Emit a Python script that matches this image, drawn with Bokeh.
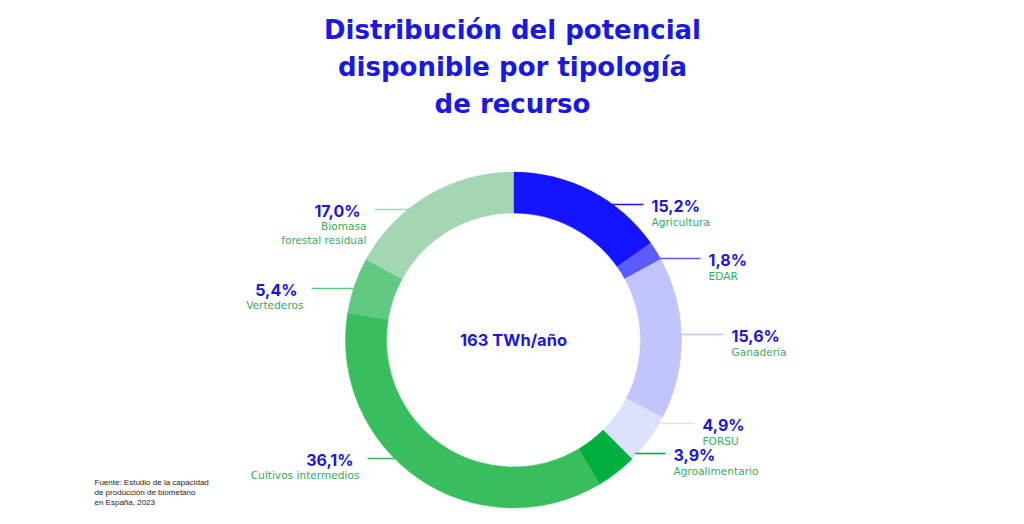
import math
from bokeh.plotting import figure
from bokeh.models import Range1d, ColumnDataSource
from bokeh.core.properties import value
from bokeh.embed import file_html
from bokeh.resources import INLINE

# ---------------- data ----------------
title_lines = ["Distribución del potencial", "disponible por tipología", "de recurso"]
categories = ["Agricultura", "EDAR", "Ganadería", "FORSU", "Agroalimentario",
              "Cultivos intermedios", "Vertederos", "Biomasa\nforestal residual"]
shares = [15.2, 1.8, 15.6, 4.9, 3.9, 36.1, 5.4, 17.0]
center_text = "163 TWh/año"
source_lines = ["Fuente: Estudio de la capacidad", "de producción de biometano", "en España, 2023"]

# ---------------- styles / layout ----------------
colors = ["#1414FF", "#5A5CFF", "#C1C5FB", "#DEE1FD", "#00B03E", "#38BE5C", "#62C982", "#A3D7B2"]
W, H = 1024, 524
CX, CY_PIX = 513, 339.5
R_OUT, R_IN = 168, 127
TITLE_COLOR = "#1A18E4"
PCT_COLOR = "#1C16D8"
SUB_COLOR = "#35AE58"
FONT = "Inter"
TITLE_FONT = "DejaVu Sans"
SUB_FONT = "DejaVu Sans"

# label layout (pixel coords, y down): side, anchor x, leader-line y
label_side = ["R", "R", "R", "R", "R", "L", "L", "L"]
label_x = [651, 708, 731, 702, 673, 359, 303, 366]
label_line_y = [204, 258, 334, 423, 453, 458, 288, 209]


def Y(ypix):
    return H - ypix


CY = Y(CY_PIX)

p = figure(width=W, height=H, output_backend="svg", toolbar_location=None,
           x_range=Range1d(0, W), y_range=Range1d(0, H), min_border=0)
p.axis.visible = False
p.grid.visible = False
p.outline_line_color = None
p.background_fill_color = "white"
p.border_fill_color = "white"

# ---------------- donut ----------------
total = sum(shares)
starts, ends = [], []
cum = 0.0
for v in shares:
    a0 = math.pi / 2 - cum / total * 2 * math.pi
    cum += v
    a1 = math.pi / 2 - cum / total * 2 * math.pi
    starts.append(a0)
    ends.append(a1)

src = ColumnDataSource(dict(x=[CX] * len(shares), y=[CY] * len(shares),
                            start=starts, end=ends, color=colors))
p.annular_wedge(x="x", y="y", inner_radius=R_IN, outer_radius=R_OUT,
                start_angle="start", end_angle="end", direction="clock",
                fill_color="color", line_color="color", line_width=0.5, source=src)

# ---------------- labels ----------------
for i, cat in enumerate(categories):
    ly = label_line_y[i]
    dy = CY_PIX - ly
    edge = math.sqrt(max(R_OUT ** 2 - dy ** 2, 0))
    pct = f"{shares[i]:.1f}".replace(".", ",") + "%"
    sub = cat.split("\n")
    if label_side[i] == "R":
        x0 = CX + edge - 2
        x1 = label_x[i] - 8
        p.line([x0, x1], [Y(ly), Y(ly)], line_color=colors[i], line_width=1.6)
        p.text(x=[label_x[i]], y=[Y(ly + 1.5)], text=[pct], text_font=value(FONT),
               text_font_style="bold", text_font_size="16px", text_color=PCT_COLOR,
               text_align="left", text_baseline="middle")
        for j, s in enumerate(sub):
            p.text(x=[label_x[i]], y=[Y(ly + 17 + 14 * j)], text=[s], text_font=value(SUB_FONT),
                   text_font_size="10.6px", text_color=SUB_COLOR,
                   text_align="left", text_baseline="middle")
    else:
        x0 = CX - edge + 2
        x1 = label_x[i] + 8
        p.line([x1, x0], [Y(ly), Y(ly)], line_color=colors[i], line_width=1.6)
        p.text(x=[label_x[i] - 6], y=[Y(ly + 1.5)], text=[pct], text_font=value(FONT),
               text_font_style="bold", text_font_size="16px", text_color=PCT_COLOR,
               text_align="right", text_baseline="middle")
        for j, s in enumerate(sub):
            p.text(x=[label_x[i]], y=[Y(ly + 16 + 14 * j)], text=[s], text_font=value(SUB_FONT),
                   text_font_size="10.6px", text_color=SUB_COLOR,
                   text_align="right", text_baseline="middle")

# ---------------- center text ----------------
p.text(x=[CX], y=[Y(339)], text=[center_text], text_font=value(FONT), text_font_style="bold",
       text_font_size="16.5px", text_color=PCT_COLOR, text_align="center", text_baseline="middle")

# ---------------- title ----------------
for k, t in enumerate(title_lines):
    p.text(x=[W / 2], y=[Y(29 + 37 * k)], text=[t], text_font=value(TITLE_FONT), text_font_style="bold",
           text_font_size="26px", text_color=TITLE_COLOR, text_align="center", text_baseline="middle")

# ---------------- source ----------------
for k, t in enumerate(source_lines):
    p.text(x=[94], y=[Y(482 + 10 * k)], text=[t], text_font=value("Liberation Sans"),
           text_font_size="8px", text_color="#222222", text_align="left", text_baseline="middle")

open("out.html", "w").write(file_html(p, INLINE))
